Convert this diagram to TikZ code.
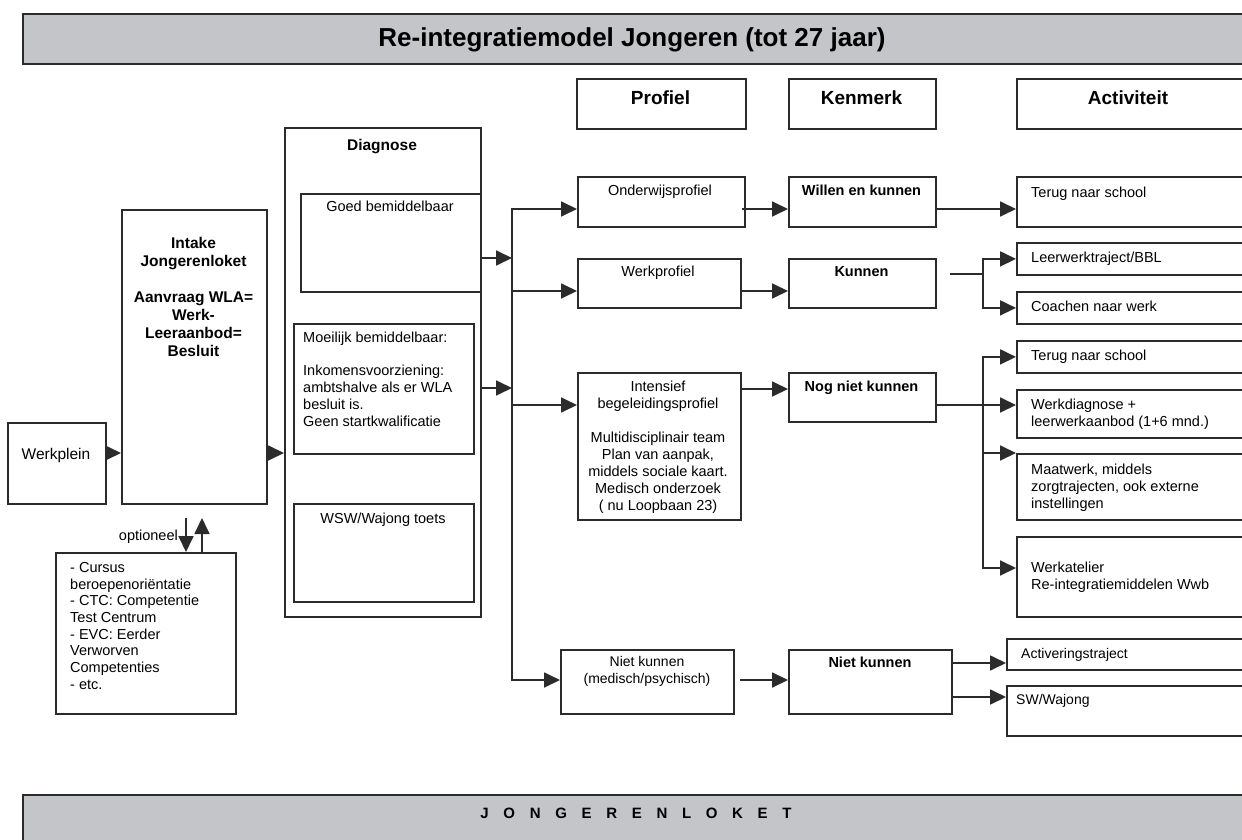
\documentclass[tikz,border=0pt]{standalone}
\usepackage{fontspec}
\setmainfont{Liberation Sans}
\usetikzlibrary{arrows.meta,calc}
\definecolor{lncol}{HTML}{2B2B2B}
\definecolor{barcol}{HTML}{C4C5C8}
\newcommand\bx[6][]{\node[box,#1,minimum width={#5-#3},minimum height={#6-#4}] (#2) at (#3,#4) {};}
\begin{document}
\begin{tikzpicture}[x=1pt,y=-1pt,
  box/.style={draw=lncol,line width=1.8pt,rectangle,inner sep=0pt,anchor=north west},
  txt/.style={inner sep=0pt,anchor=north,align=center,text=black,font=\fontsize{14.5}{16.9}\selectfont},
  ltxt/.style={txt,anchor=north west,align=left},
  btxt/.style={txt,font=\fontsize{14.5}{17}\selectfont\bfseries},
  itxt/.style={txt,font=\fontsize{15.5}{18}\selectfont\bfseries},
  hd/.style={inner sep=0pt,anchor=base,text=black,font=\fontsize{19}{22}\selectfont\bfseries},
  arr/.style={draw=lncol,line width=1.8pt,-{Triangle[length=16pt,width=15pt]}},
  conn/.style={draw=lncol,line width=1.8pt},
]
\useasboundingbox (0,0) rectangle (1242,840);
\clip (0,0) rectangle (1242,840);
\fill[white] (0,0) rectangle (1242,840);

% title bar
\bx[fill=barcol]{titlebar}{22}{13}{1262}{63}
\node[inner sep=0pt,anchor=base,font=\fontsize{26}{30}\selectfont\bfseries] (titletext) at (632,47) {Re-integratiemodel Jongeren (tot 27 jaar)};

% column headers
\bx{profiel}{576}{78}{745}{128}
\node[hd] (profielt) at (660.5,105) {Profiel};
\bx{kenmerk}{788}{78}{935}{128}
\node[hd] (kenmerkt) at (861.5,105) {Kenmerk};
\bx{activiteit}{1016}{78}{1262}{128}
\node[hd] (activiteitt) at (1128,105) {Activiteit};

% left part
\bx{werkplein}{7}{422}{105}{503}
\node[txt,font=\fontsize{15.5}{18}\selectfont] (werkpleint) at (56,448) {Werkplein};
\bx{intake}{121}{209}{266}{503}
\node[itxt] (intaket) at (193.5,237) {Intake\\Jongerenloket\\[18pt]Aanvraag WLA=\\Werk-\\Leeraanbod=\\Besluit};
\bx{opt}{55}{552}{235}{713}
\node[ltxt,font=\fontsize{14.5}{16.7}\selectfont] (optt) at (70,562) {- Cursus\\beroepenoriëntatie\\- CTC: Competentie\\Test Centrum\\- EVC: Eerder\\Verworven\\Competenties\\- etc.};
\node[txt,anchor=north east] (optioneel) at (178,530) {optioneel};

% diagnose
\bx{diag}{284}{127}{480}{616}
\node[itxt] (diagt) at (382,139) {Diagnose};
\bx{goed}{300}{193}{480}{291}
\node[txt] (goedt) at (390,201) {Goed bemiddelbaar};
\bx{moei}{293}{323}{473}{453}
\node[ltxt] (moeit) at (303,332) {Moeilijk bemiddelbaar:\\[16pt]Inkomensvoorziening:\\ambtshalve als er WLA\\besluit is.\\Geen startkwalificatie};
\bx{wsw}{293}{503}{473}{601}
\node[txt] (wswt) at (383,513) {WSW/Wajong toets};

% profiel column
\bx{onder}{577}{176}{744}{226}
\node[txt] (ondert) at (660,185) {Onderwijsprofiel};
\bx{werkp}{577}{258}{740}{307}
\node[txt] (werkpt) at (658,266) {Werkprofiel};
\bx{intens}{577}{372}{740}{519}
\node[txt] (intenst) at (658,381) {Intensief\\begeleidingsprofiel\\[17pt]Multidisciplinair team\\Plan van aanpak,\\middels sociale kaart.\\Medisch onderzoek\\( nu Loopbaan 23)};
\bx{nkm}{560}{649}{733}{713}
\node[txt,font=\fontsize{14}{17.5}\selectfont] (nkmt) at (647,656) {Niet kunnen\\(medisch/psychisch)};

% kenmerk column
\bx{willen}{788}{176}{935}{226}
\node[btxt] (willent) at (861.5,185) {Willen en kunnen};
\bx{kunnen}{788}{258}{935}{307}
\node[btxt] (kunnent) at (861.5,266) {Kunnen};
\bx{nognk}{788}{372}{935}{421}
\node[btxt] (nognkt) at (861.5,381) {Nog niet kunnen};
\bx{nk}{788}{649}{951}{713}
\node[btxt] (nkt) at (870,657) {Niet kunnen};

% activiteit column
\bx{terug1}{1016}{176}{1262}{226}
\node[ltxt] (terug1t) at (1031,187) {Terug naar school};
\bx{leer}{1016}{242}{1262}{274}
\node[ltxt] (leert) at (1031,252) {Leerwerktraject/BBL};
\bx{coach}{1016}{291}{1262}{323}
\node[ltxt] (coacht) at (1031,301) {Coachen naar werk};
\bx{terug2}{1016}{340}{1262}{372}
\node[ltxt] (terug2t) at (1031,350) {Terug naar school};
\bx{werkd}{1016}{389}{1262}{437}
\node[ltxt] (werkdt) at (1031,399) {Werkdiagnose +\\leerwerkaanbod (1+6 mnd.)};
\bx{maat}{1016}{453}{1262}{519}
\node[ltxt] (maatt) at (1031,464) {Maatwerk, middels\\zorgtrajecten, ook externe\\instellingen};
\bx{atel}{1016}{536}{1262}{616}
\node[ltxt] (atelt) at (1031,562) {Werkatelier\\Re-integratiemiddelen Wwb};
\bx{activ}{1006}{638}{1262}{669}
\node[ltxt,font=\fontsize{14}{17}\selectfont] (activt) at (1021,648) {Activeringstraject};
\bx{sww}{1006}{685}{1262}{735}
\node[ltxt,font=\fontsize{14}{17}\selectfont] (swwt) at (1016,694) {SW/Wajong};

% bottom bar
\bx[fill=barcol]{lokbar}{22}{794}{1262}{860}
\node[inner sep=0pt,anchor=base,font=\fontsize{15}{18}\selectfont\bfseries\addfontfeature{LetterSpace=70}] (lokt) at (636,818.5) {J O N G E R E N L O K E T};

% connectors: left
\coordinate (wy) at (0,453);
\draw[arr] (werkplein.east |- wy) -- (intake.west |- wy);
\draw[arr] (intake.east |- wy) -- (diag.west |- wy);
\coordinate (od) at (186,518);
\coordinate (ou) at (202,518);
\draw[arr] (od) -- (od |- opt.north);
\draw[arr] (ou |- opt.north) -- (ou);

% diagnose to trunk
\coordinate (tk1) at (512,258);
\coordinate (tk2) at (512,388);
\draw[arr] (diag.east |- tk1) -- (tk1);
\draw[arr] (diag.east |- tk2) -- (tk2);
\coordinate (T1) at (512,209);
\coordinate (T2) at (512,291);
\coordinate (T3) at (512,405);
\coordinate (T4) at (512,680);
\draw[arr] (T4) |- (onder.west |- T1);
\draw[arr] (T1) |- (nkm.west |- T4);
\draw[arr] (T2) -- (werkp.west |- T2);
\draw[arr] (T3) -- (intens.west |- T3);

% profiel -> kenmerk
\coordinate (P1) at (742,209);
\draw[arr] (P1) -- (willen.west |- P1);
\coordinate (P2) at (0,291);
\draw[arr] (werkp.east |- P2) -- (kunnen.west |- P2);
\coordinate (P3) at (0,389);
\draw[arr] (intens.east |- P3) -- (nognk.west |- P3);
\coordinate (P4) at (740,680);
\draw[arr] (P4) -- (nk.west |- P4);

% kenmerk -> activiteit
\draw[arr] (willen.east |- P1) -- (terug1.west |- P1);
\coordinate (K0) at (950,274);
\coordinate (K1) at (983,274);
\draw[conn] (K0) -- (K1);
\draw[arr] (K1) |- (leer.west);
\draw[arr] (K1) |- (coach.west);
\coordinate (N1) at (983,405);
\draw[conn] (nognk.east |- N1) -- (N1);
\draw[arr] (N1) |- (terug2.west);
\draw[arr] (N1) -- (werkd.west |- N1);
\draw[arr] (N1) |- (maat.north west);
\coordinate (N4) at (983,568);
\draw[arr] (N1) |- (atel.west |- N4);
\coordinate (A1) at (0,663);
\coordinate (A2) at (0,697);
\draw[arr] (nk.east |- A1) -- (activ.west |- A1);
\draw[arr] (nk.east |- A2) -- (sww.west |- A2);
\end{tikzpicture}
\end{document}
